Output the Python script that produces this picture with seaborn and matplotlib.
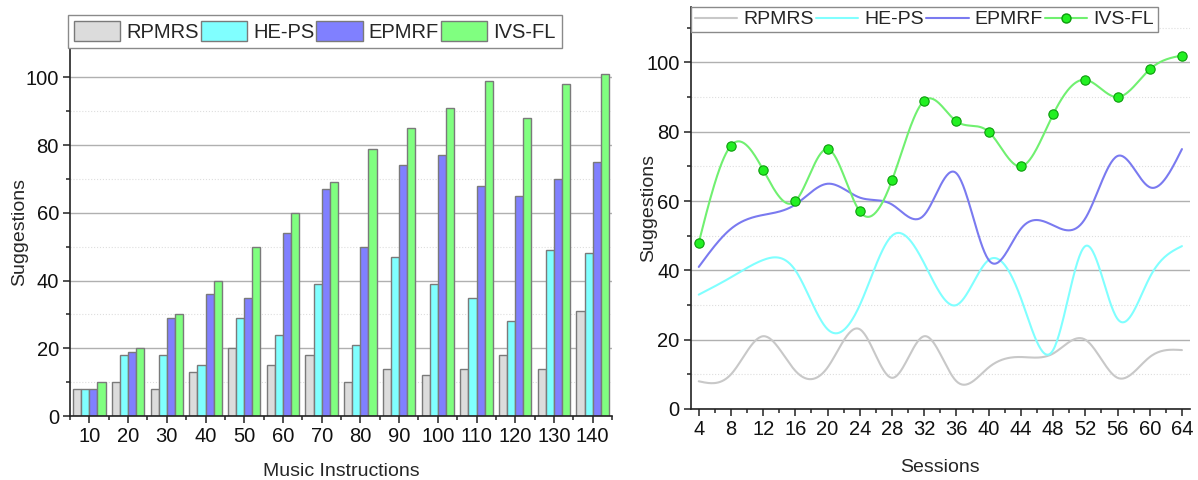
import numpy as np
import pandas as pd
import matplotlib
matplotlib.use("Agg")
import matplotlib.pyplot as plt
from matplotlib.lines import Line2D
from matplotlib.ticker import FixedLocator, MultipleLocator
import seaborn as sns

# ---- data -------------------------------------------------------------
methods = ["RPMRS", "HE-PS", "EPMRF", "IVS-FL"]

instructions = [10, 20, 30, 40, 50, 60, 70, 80, 90, 100, 110, 120, 130, 140]
bar_rpmrs = [8, 10, 8, 13, 20, 15, 18, 10, 14, 12, 14, 18, 14, 31]
bar_heps = [8, 18, 18, 15, 29, 24, 39, 21, 47, 39, 35, 28, 49, 48]
bar_epmrf = [8, 19, 29, 36, 35, 54, 67, 50, 74, 77, 68, 65, 70, 75]
bar_ivsfl = [10, 20, 30, 40, 50, 60, 69, 79, 85, 91, 99, 88, 98, 101]

sessions = [4, 8, 12, 16, 20, 24, 28, 32, 36, 40, 44, 48, 52, 56, 60, 64]
line_rpmrs = [8, 10, 21, 11, 12, 23, 9, 21, 8, 12, 15, 16, 20, 9, 15, 17]
line_heps = [33, 38, 43, 40, 23, 30, 50, 42, 30, 43, 32, 17, 47, 26, 38, 47]
line_epmrf = [41, 52, 56, 59, 65, 61, 59, 56, 68, 43, 52, 53, 55, 73, 64, 75]
line_ivsfl = [48, 76, 69, 60, 75, 57, 66, 89, 83, 80, 70, 85, 95, 90, 98, 102]

fill_colors = {"RPMRS": "#dcdcdc", "HE-PS": "#80ffff",
               "EPMRF": "#8080ff", "IVS-FL": "#80ff80"}
line_colors = {"RPMRS": "#c8c8c8", "HE-PS": "#80ffff",
               "EPMRF": "#7a7af0", "IVS-FL": "#70f070"}


def natural_spline(x, y, n=500):
    """Smooth connecting curve (natural cubic spline) through the points."""
    x = np.asarray(x, float)
    y = np.asarray(y, float)
    m = len(x)
    h = np.diff(x)
    A = np.zeros((m, m))
    r = np.zeros(m)
    A[0, 0] = A[-1, -1] = 1.0
    for i in range(1, m - 1):
        A[i, i - 1] = h[i - 1]
        A[i, i] = 2 * (h[i - 1] + h[i])
        A[i, i + 1] = h[i]
        r[i] = 3 * ((y[i + 1] - y[i]) / h[i] - (y[i] - y[i - 1]) / h[i - 1])
    c = np.linalg.solve(A, r)
    b = (y[1:] - y[:-1]) / h - h * (2 * c[:-1] + c[1:]) / 3
    d = (c[1:] - c[:-1]) / (3 * h)
    xs = np.linspace(x[0], x[-1], n)
    idx = np.clip(np.searchsorted(x, xs, side="right") - 1, 0, m - 2)
    dx = xs - x[idx]
    ys = y[idx] + b[idx] * dx + c[idx] * dx ** 2 + d[idx] * dx ** 3
    return xs, ys


# ---- styling ----------------------------------------------------------
sns.set_theme(style="white")
plt.rcParams["font.family"] = ["Liberation Sans", "DejaVu Sans"]
plt.rcParams["axes.edgecolor"] = "black"

W, H = 1198, 480
fig = plt.figure(figsize=(W / 100, H / 100), dpi=100)
ax1 = fig.add_axes([70 / W, 64 / H, (612 - 70) / W, (416 - 48) / H])
ax2 = fig.add_axes([690.7 / W, 71 / H, (1190 - 690.7) / W, (409 - 7) / H])


def style_axes(ax):
    for s in ("top", "right"):
        ax.spines[s].set_visible(False)
    for s in ("left", "bottom"):
        ax.spines[s].set_linewidth(1.2)
        ax.spines[s].set_color("#222222")
    ax.tick_params(which="both", left=True, bottom=True, direction="out",
                   color="#222222", width=1.1)
    ax.tick_params(which="major", length=5, labelsize=14.5, pad=3,
                   labelcolor="#111111")
    ax.tick_params(which="minor", length=3)
    ax.set_axisbelow(True)
    ax.grid(False)
    ax.yaxis.grid(True, which="major", color="#b0b0b0", linewidth=1.0)
    ax.yaxis.grid(True, which="minor", color="#dedede", linewidth=0.8,
                  linestyle=":")


# ---- left: grouped bars ----------------------------------------------
bar_df = pd.DataFrame({
    "Instructions": np.tile(instructions, 4),
    "Suggestions": bar_rpmrs + bar_heps + bar_epmrf + bar_ivsfl,
    "Method": np.repeat(methods, len(instructions)),
})
sns.barplot(data=bar_df, x="Instructions", y="Suggestions", hue="Method",
            hue_order=methods, palette=fill_colors, saturation=1,
            width=0.84, edgecolor="#7a7a7a", linewidth=1.0, ax=ax1)
style_axes(ax1)
ax1.set_xlim(-0.5, 13.5)
ax1.set_ylim(0, 108.7)
ax1.yaxis.set_major_locator(FixedLocator([0, 20, 40, 60, 80, 100]))
ax1.yaxis.set_minor_locator(FixedLocator([10, 30, 50, 70, 90]))
ax1.xaxis.set_minor_locator(FixedLocator(np.arange(-0.5, 14, 1.0)))
ax1.set_xlabel("Music Instructions", fontsize=14, labelpad=12)
ax1.set_ylabel("Suggestions", fontsize=14)
ax1.yaxis.set_label_coords(-0.077, 0.5)

handles, labels = ax1.get_legend_handles_labels()
ax1.legend(handles, labels, ncol=4, loc="lower left",
           bbox_to_anchor=(-0.004, 1.0), borderaxespad=0, frameon=True,
           fancybox=False, edgecolor="#8a8a8a", framealpha=1,
           fontsize=14.5, handlelength=2.3, handleheight=1.1,
           handletextpad=0.3, columnspacing=0.1, borderpad=0.3)

# ---- right: smoothed lines -------------------------------------------
line_data = {"RPMRS": line_rpmrs, "HE-PS": line_heps,
             "EPMRF": line_epmrf, "IVS-FL": line_ivsfl}
for name in methods:
    xs, ys = natural_spline(sessions, line_data[name])
    sns.lineplot(x=xs, y=ys, color=line_colors[name], linewidth=1.5,
                 ax=ax2, legend=False)
sns.scatterplot(x=sessions, y=line_ivsfl, color="#22f022", edgecolor="#0c9c0c",
                linewidth=0.8, s=45, zorder=5, ax=ax2, legend=False)

style_axes(ax2)
ax2.set_xlim(3.0, 65.0)
ax2.set_ylim(0, 116)
ax2.xaxis.set_major_locator(FixedLocator(sessions))
ax2.xaxis.set_minor_locator(MultipleLocator(2))
ax2.yaxis.set_major_locator(FixedLocator([0, 20, 40, 60, 80, 100]))
ax2.yaxis.set_minor_locator(FixedLocator([10, 30, 50, 70, 90, 110]))
ax2.set_xlabel("Sessions", fontsize=14, labelpad=14)
ax2.set_ylabel("Suggestions", fontsize=14)
ax2.yaxis.set_label_coords(-0.067, 0.5)
for t in ax2.yaxis.get_minor_ticks():
    if t.get_loc() > 100:
        t.gridline.set_visible(False)

leg_handles = [
    Line2D([], [], color=line_colors["RPMRS"], lw=1.5),
    Line2D([], [], color=line_colors["HE-PS"], lw=1.5),
    Line2D([], [], color=line_colors["EPMRF"], lw=1.5),
    Line2D([], [], color=line_colors["IVS-FL"], lw=1.5, marker="o",
           markersize=6.5, markerfacecolor="#22f022", markeredgecolor="#0c9c0c"),
]
leg2 = ax2.legend(leg_handles, methods, ncol=4, loc="upper left",
                  bbox_to_anchor=(0.0, 1.0), borderaxespad=0, frameon=True,
                  fancybox=False, edgecolor="#8a8a8a", framealpha=1,
                  fontsize=14, handlelength=2.2, handletextpad=0.3,
                  columnspacing=0.1, borderpad=0.2)
leg2.set_zorder(10)

fig.savefig("out.png", dpi=100)
